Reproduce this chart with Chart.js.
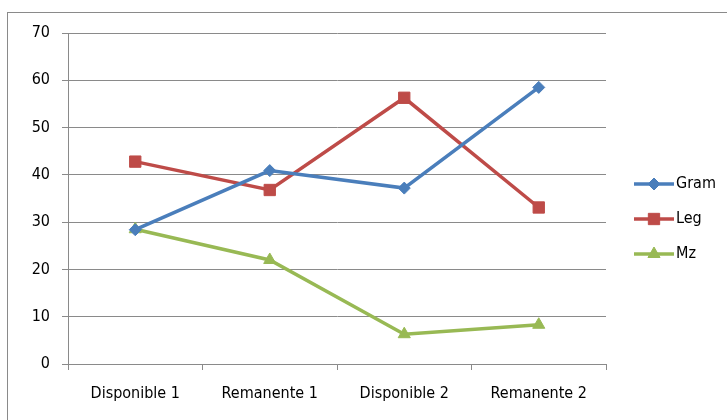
<!DOCTYPE html>
<html>
<head>
<meta charset="utf-8">
<script src="https://cdn.jsdelivr.net/npm/chart.js@4/dist/chart.umd.min.js"></script>
<style>
  html, body { margin: 0; padding: 0; background: #fff; overflow: hidden; }
  #wrap { position: relative; width: 727px; height: 420px; }
  #frame { position: absolute; left: 7px; top: 12px; width: 800px; height: 500px; border: 1px solid #8a8a8a; box-sizing: border-box; }
  canvas { position: absolute; left: 0; top: 0; }
</style>
</head>
<body>
<div id="wrap">
  <div id="frame"></div>
  <canvas id="c" width="727" height="420"></canvas>
</div>
<script>
const categories = ["Disponible 1", "Remanente 1", "Disponible 2", "Remanente 2"];
const gram = [28.4, 40.9, 37.2, 58.5];
const leg = [42.8, 36.8, 56.3, 33.1];
const mz = [28.5, 22.0, 6.3, 8.3];
const seriesNames = ["Gram", "Leg", "Mz"];
const yTicks = [0, 10, 20, 30, 40, 50, 60, 70];

const FONT = "'Liberation Sans Narrow', 'DejaVu Sans Condensed', 'Open Sans', sans-serif";

const legendPlugin = {
  id: 'excelLegend',
  afterDraw(chart) {
    const ctx = chart.ctx;
    const ys = [184, 219, 254];
    chart.data.datasets.forEach((ds, i) => {
      const y = ys[i];
      ctx.save();
      ctx.strokeStyle = ds.borderColor;
      ctx.lineWidth = 3.5;
      ctx.beginPath();
      ctx.moveTo(634, y);
      ctx.lineTo(674, y);
      ctx.stroke();
      ctx.fillStyle = ds.backgroundColor;
      ctx.strokeStyle = ds.borderColor;
      ctx.lineWidth = 1;
      Chart.helpers.drawPoint(ctx, {
        pointStyle: ds.pointStyle,
        radius: ds.pointRadius,
        rotation: 0,
        borderWidth: 1
      }, 654, y);
      ctx.fillStyle = '#000';
      ctx.font = "16px " + FONT;
      ctx.textBaseline = 'middle';
      ctx.textAlign = 'left';
      ctx.fillText(ds.label, 676, y);
      ctx.restore();
    });
  }
};

new Chart(document.getElementById('c'), {
  type: 'line',
  data: {
    labels: categories,
    datasets: [
      { label: seriesNames[0], data: gram, borderColor: '#4a7ebb', backgroundColor: '#4a7ebb', pointStyle: 'rectRot', pointRadius: 6, pointHoverRadius: 6, borderWidth: 3.5, pointBorderWidth: 1, tension: 0 },
      { label: seriesNames[1], data: leg, borderColor: '#be4b48', backgroundColor: '#be4b48', pointStyle: 'rect', pointRadius: 8, pointHoverRadius: 8, borderWidth: 3.5, pointBorderWidth: 1, tension: 0 },
      { label: seriesNames[2], data: mz, borderColor: '#98b954', backgroundColor: '#98b954', pointStyle: 'triangle', pointRadius: 7, pointHoverRadius: 7, borderWidth: 3.5, pointBorderWidth: 1, tension: 0 }
    ]
  },
  options: {
    responsive: false,
    animation: false,
    events: [],
    layout: { padding: { left: 0, top: 33, right: 121, bottom: 0 } },
    plugins: { legend: { display: false }, tooltip: { enabled: false } },
    scales: {
      x: {
        offset: true,
        grid: { offset: true, drawOnChartArea: false, drawTicks: true, tickLength: 6, color: '#8a8a8a' },
        border: { color: '#8a8a8a', width: 1 },
        ticks: { color: '#000', font: { family: FONT, size: 16 }, padding: 14, maxRotation: 0 },
        afterFit(s) { s.height = 56; }
      },
      y: {
        min: 0, max: 70,
        afterBuildTicks(s) { s.ticks = yTicks.map(v => ({ value: v })); },
        grid: { color: '#8a8a8a', tickLength: 6, drawTicks: true },
        border: { color: '#8a8a8a', width: 1 },
        ticks: { color: '#000', font: { family: FONT, size: 16 }, padding: 12 },
        afterFit(s) { s.width = 68; }
      }
    }
  },
  plugins: [legendPlugin]
});
</script>
</body>
</html>
